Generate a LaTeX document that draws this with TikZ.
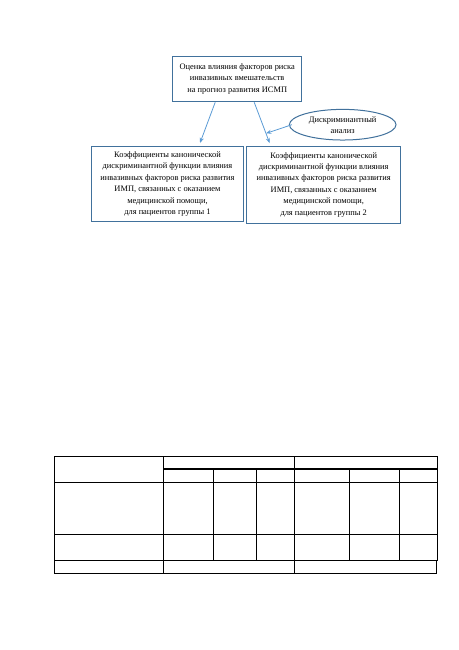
\documentclass[tikz,border=0pt]{standalone}
\usepackage{fontspec}
\setmainfont{Liberation Serif}
\usepackage{tikz}
\usetikzlibrary{arrows.meta,positioning,calc,shapes.geometric}
\definecolor{frameblue}{HTML}{41719C}
\definecolor{linkblue}{HTML}{5B9BD5}

\begin{document}
\begin{tikzpicture}[x=0.75pt,y=-0.75pt,
  textbox/.style={rectangle, draw=frameblue, line width=0.75pt, fill=white,
                  align=center, inner sep=0pt,
                  font=\fontsize{6.3}{8.6}\selectfont},
  oval/.style={ellipse, draw=frameblue, line width=0.75pt, fill=white,
               align=center, inner sep=0pt, minimum width=80pt, minimum height=23pt,
               font=\fontsize{6.3}{8.3}\selectfont},
  link/.style={draw=linkblue, line width=0.6pt, -{Stealth[length=4pt,width=3pt]}},
  grid/.style={line width=0.8pt, draw=black}
]
\useasboundingbox (0,0) rectangle (459,650);
% scheme
\node[textbox, minimum width=96.75pt, minimum height=34.3pt] (top) at (237.2,78.9)
  {Оценка влияния факторов риска\\инвазивных вмешательств\\на прогноз развития ИСМП};
\node[textbox, minimum width=113.7pt, minimum height=56.8pt] (grp1) at (167.5,183.9)
  {Коэффициенты канонической\\дискриминантной функции влияния\\инвазивных факторов риска развития\\ИМП, связанных с оказанием\\медицинской помощи,\\для пациентов группы 1};
\node[textbox, minimum width=115.5pt, minimum height=57.75pt] (grp2) at (323.7,184.7)
  {Коэффициенты канонической\\дискриминантной функции влияния\\инвазивных факторов риска развития\\ИМП, связанных с оказанием\\медицинской помощи,\\для пациентов группы 2};
\node[oval] (disc) at (342.7,124.7) {Дискриминантный\\анализ};

\coordinate (s2) at ($(top.south)+(17,0)$);
\coordinate (e2) at ($(grp2.north)+(-54,-2.5)$);
\coordinate (meet) at ($(s2)!0.76!(e2)$);
\draw[link] ($(top.south)+(-22,0)$) -- ($(grp1.north)+(32.5,-2.5)$);
\draw[link] (s2) -- (e2);
\draw[link] ($(disc.west)+(3,0)$) -- (meet);

% table
\draw[grid] (54.3,456.7) rectangle (437.3,560.3);
\draw[grid] (163.3,469) -- (437.3,469);
\draw[grid] (54.3,482.3) -- (437.3,482.3);
\draw[grid] (54.3,534.3) -- (437.3,534.3);
\draw[grid] (163.3,456.7) -- (163.3,573.3);
\draw[grid] (294.3,456.7) -- (294.3,573.3);
\draw[grid] (213.3,469) -- (213.3,560.3);
\draw[grid] (256.7,469) -- (256.7,560.3);
\draw[grid] (349.3,469) -- (349.3,560.3);
\draw[grid] (399.3,469) -- (399.3,560.3);
\draw[grid] (54.3,560.3) -- (54.3,573.3) -- (436.3,573.3) -- (436.3,560.3);
\end{tikzpicture}
\end{document}
